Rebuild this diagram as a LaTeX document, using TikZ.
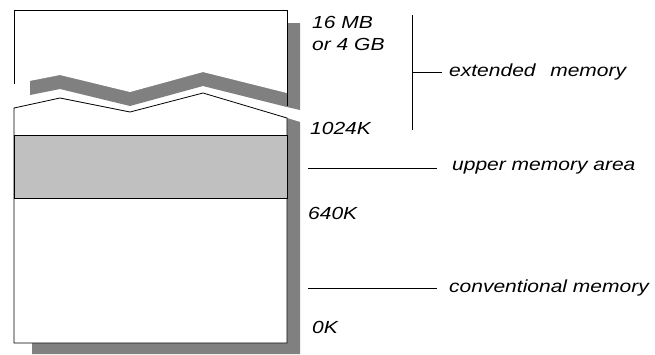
\documentclass[tikz,border=0pt]{standalone}
\usepackage{fontspec}
\setmainfont{Liberation Sans}
\usetikzlibrary{positioning}
\definecolor{shadowgray}{HTML}{808080}
\definecolor{umagray}{HTML}{C0C0C0}
\newcommand{\memtext}[1]{\scalebox{1.2}[1]{#1}}

\begin{document}
\begin{tikzpicture}[x=1pt,y=-1pt,
      piece/.style={draw=black, fill=white, line width=0.8pt},
      addr/.style={font=\fontsize{17.5}{21}\selectfont\itshape, inner sep=0pt, anchor=base west},
      area/.style={font=\fontsize{17.5}{21}\selectfont\itshape, inner sep=0pt, anchor=west},
      tick/.style={line width=0.6pt}]
\useasboundingbox (0,0) rectangle (655,354);

% shadows
\fill[shadowgray] (30,23) -- (300,23) -- (300,110) -- (287,107) -- (203,86) -- (130,106) -- (60,89) -- (30,95) -- cycle;
\fill[shadowgray] (287,118) -- (300,122) -- (300,354) -- (32,354) -- (32,140) -- cycle;

% torn memory block
\fill[white] (14,10) -- (287,10) -- (287,93) -- (203,72) -- (130,92) -- (60,75) -- (14,84) -- cycle;
\draw[line width=0.8pt] (14,84) -- (14,10) -- (287,10) -- (287,106);
\draw[piece] (14,108) -- (60,98) -- (130,112) -- (203,93) -- (287,118) -- (287,343) -- (14,343) -- cycle;
\draw[piece, fill=umagray] (14,135) rectangle (287,198);

% addresses
\node[addr] (mb16) at (312,28) {\memtext{16 MB}};
\node[addr] (gb4) at (312,50) {\memtext{or 4 GB}};
\node[addr] (k1024) at (310,134) {\memtext{1024K}};
\node[addr] (k640) at (308,219) {\memtext{640K}};
\node[addr] (k0) at (312,333) {\memtext{0K}};

% areas
\coordinate (ext top) at (412,15);
\coordinate (ext bot) at (412,130);
\coordinate (ext mid) at (412,72);
\node[area] (ext) at (449,72) {\memtext{extended\hspace{0.7em}memory}};
\coordinate (uma tick) at (308,168);
\node[area] (uma) at (452,168) {\memtext{upper memory area}};
\coordinate (conv tick) at (308,288);
\node[area] (conv) at (449,288) {\memtext{conventional memory}};

\draw[tick] (ext top) -- (ext bot);
\draw[tick] (ext mid) -- ([xshift=-7pt]ext.west);
\draw[tick] (uma tick) -- ([xshift=-15pt]uma.west);
\draw[tick] (conv tick) -- ([xshift=-12pt]conv.west);

\end{tikzpicture}
\end{document}
